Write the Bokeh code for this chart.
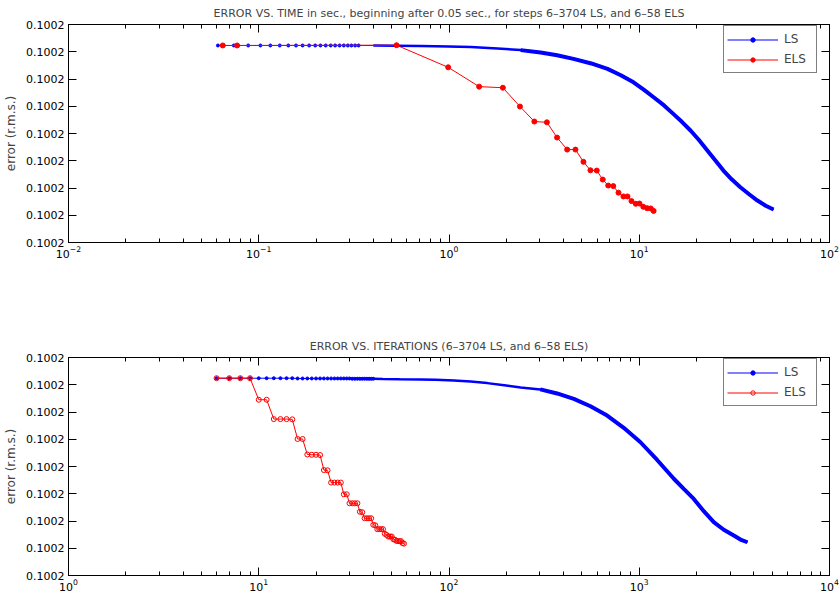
from bokeh.plotting import figure
from bokeh.models import (LogAxis, LinearAxis, FixedTicker, LogTicker, PrintfTickFormatter,
                          Legend, LegendItem, Range1d, ColumnDataSource)
from bokeh.layouts import column
from bokeh.embed import file_html
from bokeh.resources import INLINE

# ---------------- data ----------------
TITLE_TOP = "ERROR VS. TIME in sec., beginning after 0.05 sec., for steps 6\u20133704 LS, and 6\u201358 ELS"
TITLE_BOTTOM = "ERROR VS. ITERATIONS (6\u20133704 LS, and 6\u201358 ELS)"
Y_LABEL = "error (r.m.s.)"
SERIES = ["LS", "ELS"]

# LS: error vs time (s)
ls_time = [0.061, 0.074, 0.088, 0.102, 0.115, 0.129, 0.143, 0.157, 0.170, 0.184, 0.198,
           0.211, 0.225, 0.239, 0.252, 0.266, 0.280, 0.294, 0.307, 0.321, 0.335, 0.40,
           0.53, 0.71, 1.0, 1.3, 1.8, 2.38, 3.03, 3.7, 4.51, 5.6, 6.81, 8.0, 9.33, 10.6,
           11.9, 13.5, 15.1, 16.8, 18.6, 20.6, 22.8, 25.2, 27.7, 30.7, 34.0, 37.8, 41.8,
           46.2, 50.8]
ls_time_err = [0.10020723] * 22 + [
    0.10020722, 0.10020721, 0.10020719, 0.10020717, 0.10020712, 0.10020706, 0.10020697,
    0.10020687, 0.10020674, 0.10020657, 0.10020637, 0.10020614, 0.10020588, 0.10020560,
    0.10020533, 0.10020503, 0.10020472, 0.10020442, 0.10020411, 0.10020376, 0.10020338,
    0.10020300, 0.10020264, 0.10020231, 0.10020203, 0.10020177, 0.10020154, 0.10020135,
    0.10020121]

# ELS: error vs time (s)
els_time = [0.0647, 0.077, 0.53, 0.99, 1.44, 1.92, 2.36, 2.81, 3.27, 3.70, 4.18, 4.62, 5.09,
            5.54, 5.98, 6.43, 6.87, 7.30, 7.78, 8.26, 8.67, 9.10, 9.59, 10.03, 10.5, 11.0,
            11.5, 11.9]
els_time_err = [0.10020723, 0.10020723, 0.10020724, 0.10020643, 0.10020572, 0.10020568,
                0.10020499, 0.10020444, 0.10020441, 0.10020385, 0.10020341, 0.10020341,
                0.10020296, 0.10020265, 0.10020264, 0.10020231, 0.10020209, 0.10020207,
                0.10020183, 0.10020169, 0.10020169, 0.10020152, 0.10020142, 0.10020143,
                0.10020131, 0.10020126, 0.10020125, 0.10020116]

# LS: error vs iteration
ls_iter = list(range(6, 41)) + [45, 55, 71, 85, 106, 130, 159, 195, 238, 302, 370, 453, 554,
                                678, 829, 1015, 1242, 1520, 1714, 1935, 2184, 2464, 2782,
                                3141, 3404, 3704]
ls_iter_err = [0.10020724] * 10 + [0.10020723] * 15 + [0.10020722] * 10 + [
    0.10020721, 0.10020720, 0.10020719, 0.10020718, 0.10020716, 0.10020712, 0.10020706,
    0.10020698, 0.10020690, 0.10020683, 0.10020668, 0.10020648, 0.10020621, 0.10020587,
    0.10020542, 0.10020489, 0.10020424, 0.10020355, 0.10020318, 0.10020281, 0.10020236,
    0.10020196, 0.10020168, 0.10020147, 0.10020132, 0.10020122]

# ELS: error vs iteration
els_iter = list(range(6, 59))
els_iter_err = [0.10020724] * 4 + [0.10020645] * 2 + [0.10020574] * 3 + [0.10020573] + \
    [0.10020501] * 2 + [0.10020444, 0.10020443, 0.10020443, 0.10020442] + \
    [0.10020387, 0.10020386] + [0.10020341] * 4 + [0.10020298] * 2 + [0.10020265] * 4 + \
    [0.10020234, 0.10020232] + [0.10020210] * 4 + [0.10020186, 0.10020184] + \
    [0.10020170] * 4 + [0.10020153, 0.10020149] + [0.10020143] * 3 + \
    [0.10020133, 0.10020131] + [0.10020127, 0.10020126, 0.10020126, 0.10020126] + \
    [0.10020119, 0.10020117]

Y_TICKS = [0.100200, 0.100201, 0.100202, 0.100203, 0.100204, 0.100205, 0.100206, 0.100207, 0.100208]
X_RANGE_TOP = (1e-2, 1e2)
X_RANGE_BOTTOM = (1e0, 1e4)

# ---------------- styling ----------------
FONT = "DejaVu Sans"
BLUE = "#0000ff"
RED = "#ff0000"
FRAME_W, FRAME_H = 761, 218


def style_axis(ax, labels=True, minor=True):
    ax.axis_line_color = "black"
    ax.axis_line_width = 1
    ax.major_tick_in = 8
    ax.major_tick_out = 0
    ax.minor_tick_in = 4
    ax.minor_tick_out = 0
    ax.major_tick_line_color = "black"
    ax.minor_tick_line_color = "black" if minor else None
    ax.major_label_text_font = FONT
    if labels:
        ax.major_label_text_color = "black"
        ax.major_label_text_font_size = "11px"
        ax.major_label_standoff = 4
    else:
        ax.major_label_text_color = None
        ax.major_label_text_font_size = "1px"
        ax.major_label_standoff = 0


def make_fig(title, xr, border_bottom):
    p = figure(x_axis_type="log", x_range=Range1d(*xr),
               y_range=Range1d(Y_TICKS[0], Y_TICKS[-1]),
               frame_width=FRAME_W, frame_height=FRAME_H,
               output_backend="svg", toolbar_location=None,
               min_border_left=68, min_border_right=10, min_border_top=24,
               min_border_bottom=border_bottom,
               background_fill_color="white", border_fill_color="white")
    p.grid.visible = False
    p.outline_line_color = "black"
    p.title.text = title
    p.title.text_font = FONT
    p.title.text_font_size = "11px"
    p.title.text_font_style = "normal"
    p.title.align = "center"
    p.title.standoff = 9

    xa = p.xaxis[0]
    xa.ticker = LogTicker(num_minor_ticks=10)
    style_axis(xa)
    xa.major_label_standoff = 3
    ya = p.yaxis[0]
    ya.ticker = FixedTicker(ticks=Y_TICKS)
    ya.formatter = PrintfTickFormatter(format="%.4f")
    style_axis(ya, minor=False)
    ya.axis_label = Y_LABEL
    ya.axis_label_text_font = FONT
    ya.axis_label_text_font_size = "12px"
    ya.axis_label_text_font_style = "normal"
    ya.axis_label_standoff = 5

    top = LogAxis(ticker=LogTicker(num_minor_ticks=10))
    style_axis(top, labels=False)
    p.add_layout(top, "above")
    right = LinearAxis(ticker=FixedTicker(ticks=Y_TICKS))
    style_axis(right, labels=False, minor=False)
    p.add_layout(right, "right")
    return p


def draw(p, ls_x, ls_y, n_dots, mid_from, thick_from, els_x, els_y, els_fill):
    ls_line = p.line(ls_x, ls_y, line_color=BLUE, line_width=1)
    p.line(ls_x[mid_from:], ls_y[mid_from:], line_color=BLUE, line_width=2.5)
    p.line(ls_x[thick_from:], ls_y[thick_from:], line_color=BLUE, line_width=4)
    ls_dots = p.scatter(ls_x[:n_dots], ls_y[:n_dots], size=3, fill_color=BLUE, line_color=BLUE)
    esrc = ColumnDataSource(dict(x=els_x, y=els_y))
    els_line = p.line("x", "y", source=esrc, line_color=RED, line_width=1)
    els_dots = p.scatter("x", "y", source=esrc, size=5, line_color=RED, line_width=1,
                         fill_color=RED if els_fill else None)
    legend = Legend(items=[LegendItem(label=SERIES[0], renderers=[ls_line, ls_dots]),
                           LegendItem(label=SERIES[1], renderers=[els_line, els_dots])],
                    location=(655, 169), padding=3, spacing=0, margin=0,
                    glyph_width=51, glyph_height=11, label_height=20, label_width=29,
                    label_standoff=6, label_text_font=FONT, label_text_font_size="12px",
                    border_line_color="black", border_line_width=1,
                    background_fill_color="white", background_fill_alpha=1)
    p.add_layout(legend)


p1 = make_fig(TITLE_TOP, X_RANGE_TOP, 91)
draw(p1, ls_time, ls_time_err, 21, 21, 27, els_time, els_time_err, True)
p2 = make_fig(TITLE_BOTTOM, X_RANGE_BOTTOM, 23)
draw(p2, ls_iter, ls_iter_err, 35, 24, 44, els_iter, els_iter_err, False)

layout = column(p1, p2, spacing=0)
open("out.html", "w").write(file_html(layout, INLINE))
